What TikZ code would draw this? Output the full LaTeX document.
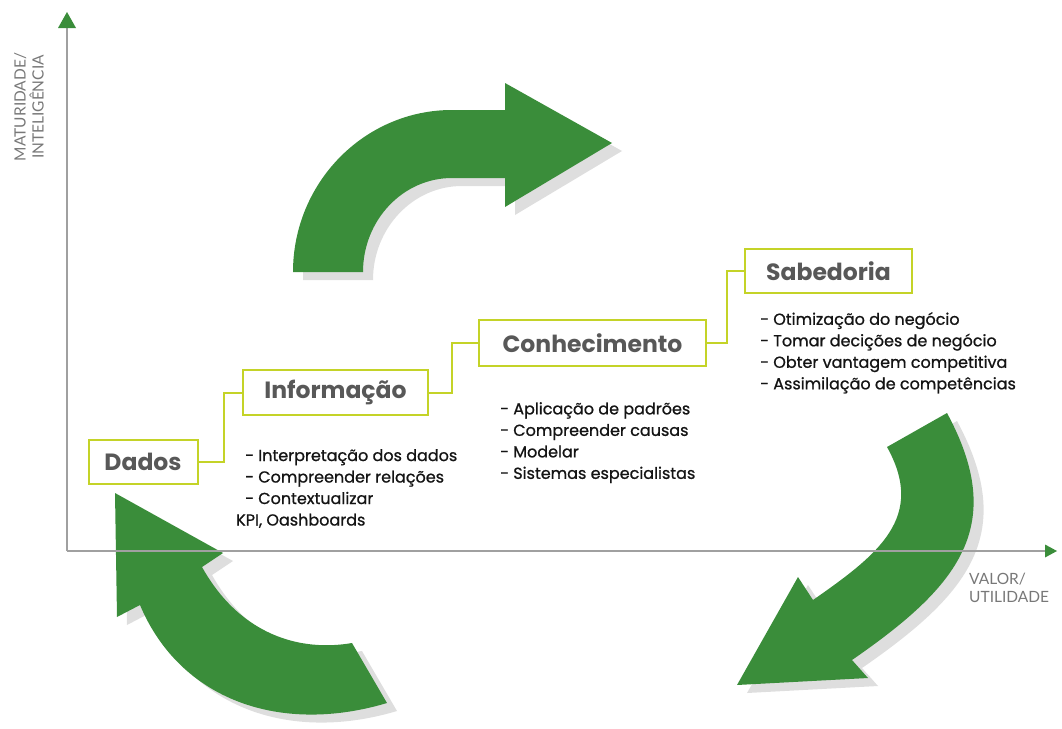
\documentclass[tikz,border=0pt]{standalone}
\usepackage{fontspec}
\setmainfont{Poppins}
\newfontfamily\bodyfont{Poppins}[FakeBold=0.9]
\newfontfamily\labelfont{Lato}
\definecolor{arrgreen}{RGB}{58,141,58}
\definecolor{lime}{RGB}{196,211,40}
\definecolor{headgray}{RGB}{88,88,88}
\definecolor{axisgray}{RGB}{160,160,160}
\definecolor{labgray}{RGB}{120,120,120}
\definecolor{shadowgray}{RGB}{222,222,222}
\definecolor{textblack}{RGB}{20,20,20}
\tikzset{
  stagebox/.style={draw=lime, line width=2pt, fill=white, inner sep=0pt,
    font=\fontsize{23.5}{26}\selectfont\bfseries, text=headgray},
  link/.style={draw=lime, line width=2pt},
  bullets/.style={anchor=north west, align=left, inner sep=0pt,
    font=\bodyfont\fontsize{16}{21.5}\selectfont, text=textblack},
  axisline/.style={draw=axisgray, line width=1.4pt},
  axislabel/.style={font=\labelfont\fontsize{15.5}{18}\selectfont, text=labgray, inner sep=0pt},
  bigarrow/.style={fill=arrgreen},
  bigshadow/.style={fill=shadowgray}
}
\def\ArrTop{(293,272) .. controls (293,183) and (364,110) .. (452,110) -- (505,110) -- (505,83) -- (612,143) -- (505,207) -- (505,178) -- (452,178) .. controls (403,178) and (363,220) .. (363,272) -- cycle}
\def\ArrLeft{(115,493) -- (223,553) -- (202,567) .. controls (240,635) and (300,652) .. (352,643) -- (387,703) .. controls (280,735) and (180,700) .. (140,605) -- (117,617) -- cycle}
\def\ArrRight{(947,413) .. controls (1008,526) and (959,586) .. (852,660) -- (868,678) -- (737,685) -- (798,577) -- (813,600) .. controls (879,554) and (926,517) .. (887,447) -- cycle}
\begin{document}
\begin{tikzpicture}[x=1pt, y=-1pt]
\useasboundingbox (0,0) rectangle (1062,728);
% shadows
\begin{scope}[shift={(10,8)}]
  \fill[bigshadow] \ArrTop;
  \fill[bigshadow] \ArrLeft;
  \fill[bigshadow] \ArrRight;
\end{scope}
% green arrows
\fill[bigarrow] \ArrTop;
\fill[bigarrow] \ArrLeft;
\fill[bigarrow] \ArrRight;
% axes
\coordinate (origin) at (67,551);
\coordinate (ytop) at (67,28);
\coordinate (xend) at (1045,551);
\draw[axisline] (origin) -- (ytop);
\draw[axisline] (origin) -- (xend);
\fill[arrgreen] (67,12) -- (76,28) -- (58,28) -- cycle;
\fill[arrgreen] (1057,551) -- (1045,544.5) -- (1045,557.5) -- cycle;
\node[axislabel, rotate=90, align=center] (ylab) at (29,107) {MATURIDADE/\\INTELIGÊNCIA};
\node[axislabel, anchor=north west, align=left] (xlab) at (969,573) {VALOR/\\UTILIDADE};
% stage boxes
\node[stagebox, minimum width=109pt, minimum height=44pt] (dados) at (143,462) {Dados};
\node[stagebox, minimum width=185pt, minimum height=45pt] (info) at (335.5,392.5) {Informação};
\node[stagebox, minimum width=227pt, minimum height=46pt] (conh) at (592.5,343) {Conhecimento};
\node[stagebox, minimum width=167pt, minimum height=44pt] (sab) at (828.5,271) {Sabedoria};
% connectors
\draw[link] (dados.east) -- ++(25,0) |- (info.west);
\draw[link] (info.east) -- ++(23,0) |- (conh.west);
\draw[link] (conh.east) -- ++(20,0) |- (sab.west);
% bullet lists
\node[bullets] (infolist) at (245,449) {- Interpretação dos dados\\- Compreender relações\\- Contextualizar\\\hspace*{-9pt}KPI, Oashboards};
\node[bullets] (conhlist) at (500,402) {- Aplicação de padrões\\- Compreender causas\\- Modelar\\- Sistemas especialistas};
\node[bullets] (sablist) at (760,312) {- Otimização do negócio\\- Tomar decições de negócio\\- Obter vantagem competitiva\\- Assimilação de competências};
\end{tikzpicture}
\end{document}
